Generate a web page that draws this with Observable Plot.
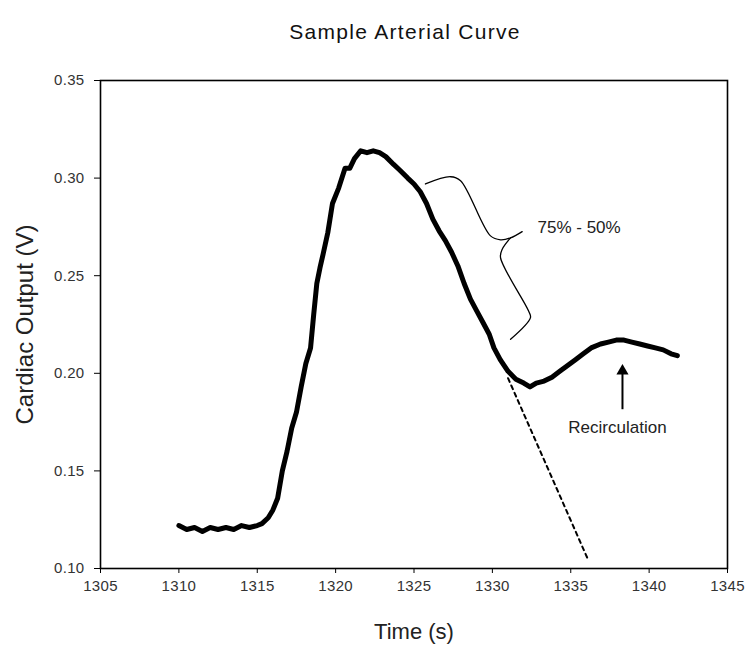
<!DOCTYPE html>
<html><head><meta charset="utf-8">
<script src="https://cdn.jsdelivr.net/npm/d3@7"></script>
<script src="https://cdn.jsdelivr.net/npm/@observablehq/plot@0.6"></script>
<style>
body{margin:0;background:#fff;font-family:"Liberation Sans",Arial,sans-serif;}
#title{width:750px;height:50px;box-sizing:border-box;padding-top:20px;padding-left:60px;line-height:24px;text-align:center;font-size:21px;letter-spacing:1.3px;color:#111;}
</style></head><body>
<div id="title">Sample Arterial Curve</div>
<div id="chart"></div>
<script>
// Measured arterial curve (time in s, cardiac output in V)
const timeS = [1310.0,1310.5,1311.0,1311.5,1312.0,1312.5,1313.0,1313.5,1314.0,1314.5,1315.0,1315.3,1315.7,1316.0,1316.3,1316.6,1316.9,1317.2,1317.5,1317.8,1318.1,1318.4,1318.6,1318.8,1319.0,1319.2,1319.5,1319.8,1320.2,1320.6,1320.9,1321.2,1321.6,1322.0,1322.4,1322.8,1323.2,1323.7,1324.1,1324.6,1325.0,1325.4,1325.8,1326.2,1326.6,1327.0,1327.4,1327.8,1328.2,1328.6,1329.0,1329.4,1329.8,1330.1,1330.5,1331.0,1331.5,1332.0,1332.4,1332.8,1333.3,1333.8,1334.3,1334.8,1335.3,1335.8,1336.3,1336.9,1337.4,1337.9,1338.4,1338.9,1339.4,1339.9,1340.4,1340.9,1341.4,1341.8];
const outputV = [0.122,0.120,0.121,0.119,0.121,0.120,0.121,0.120,0.122,0.121,0.122,0.123,0.126,0.130,0.136,0.150,0.160,0.172,0.180,0.193,0.205,0.213,0.230,0.246,0.254,0.261,0.272,0.287,0.295,0.305,0.305,0.310,0.314,0.313,0.314,0.313,0.311,0.307,0.304,0.300,0.297,0.293,0.287,0.279,0.273,0.268,0.262,0.255,0.246,0.238,0.232,0.226,0.220,0.213,0.207,0.201,0.197,0.195,0.193,0.195,0.196,0.198,0.201,0.204,0.207,0.210,0.213,0.215,0.216,0.217,0.217,0.216,0.215,0.214,0.213,0.212,0.210,0.209];

// Extrapolated decay (dashed)
const extrapT = [1331.0, 1336.1];
const extrapV = [0.1975, 0.1046];

// Brace annotation (two halves)
const braceT = [1325.73,1327.33,1327.97,1329.88,1330.52,1331.16,1331.90, 1331.16,1330.63,1330.52,1332.31,1332.43,1331.16];
const braceV = [0.2970,0.3007,0.2987,0.2704,0.2684,0.2694,0.2726, 0.2694,0.2636,0.2593,0.2319,0.2285,0.2174];
const braceSeg = ["a","a","a","a","a","a","a","b","b","b","b","b","b"];

// Recirculation arrow
const arrowT = 1338.3, arrowV0 = 0.1816, arrowV1 = 0.2005, arrowTipV = 0.2012;

// Axes
const xTicks = [1305,1310,1315,1320,1325,1330,1335,1340,1345];
const yTicks = [0.10,0.15,0.20,0.25,0.30,0.35];
const xDomain = [1305,1345];
const yDomain = [0.10,0.35];

const curve = timeS.map((t,i)=>({t, v: outputV[i]}));
const extrap = extrapT.map((t,i)=>({t, v: extrapV[i]}));
const brace = braceT.map((t,i)=>({t, v: braceV[i], s: braceSeg[i]}));

const chart = Plot.plot({
  width: 750, height: 603,
  marginTop: 30, marginBottom: 85, marginLeft: 100, marginRight: 23,
  style: {fontFamily: '"Liberation Sans", Arial, sans-serif', background: "#fff", color: "#111"},
  x: {domain: xDomain},
  y: {domain: yDomain},
  marks: [
    Plot.axisY({ticks: yTicks, tickFormat: d => d.toFixed(2), tickSize: 6, tickPadding: 10, fontSize: 15, label: null, stroke: "black", fill: "#333"}),
    Plot.axisX({ticks: xTicks, tickFormat: d => String(d), tickSize: 5, tickPadding: 7, fontSize: 15, label: null, stroke: "black", fill: "#333"}),
    Plot.line(extrap, {x: "t", y: "v", stroke: "black", strokeWidth: 2, strokeDasharray: "4,4"}),
    Plot.line(brace, {x: "t", y: "v", z: "s", curve: "catmull-rom", stroke: "black", strokeWidth: 1.3}),
    Plot.line(curve, {x: "t", y: "v", stroke: "black", strokeWidth: 5, strokeLinejoin: "round", strokeLinecap: "round"}),
    Plot.link([0], {x1: () => arrowT, x2: () => arrowT, y1: () => arrowV0, y2: () => arrowV1, stroke: "black", strokeWidth: 2}),
    Plot.dot([0], {x: () => arrowT, y: () => arrowTipV, symbol: "triangle", r: 4.5, fill: "black", stroke: "none"}),
    Plot.text(["Recirculation"], {x: () => 1337.98, y: () => 0.172, text: d => d, fontSize: 17, fill: "#222", ariaLabel: "rec"}),
    Plot.text(["75% - 50%"], {x: () => 1332.88, y: () => 0.2747, text: d => d, fontSize: 17, fill: "#222", textAnchor: "start", ariaLabel: "pct"}),
    Plot.text(["Cardiac Output (V)"], {frameAnchor: "left", textAnchor: "middle", lineAnchor: "middle", text: d => d, rotate: -90, dx: -75, fontSize: 24, fill: "#222", ariaLabel: "ylab"}),
    Plot.text(["Time (s)"], {frameAnchor: "bottom", text: d => d, dy: 70, fontSize: 22, fill: "#222", ariaLabel: "xlab"}),
    Plot.frame({stroke: "black", strokeWidth: 1.6})
  ]
});
document.getElementById("chart").appendChild(chart);
const svg = d3.select(chart);
svg.selectAll('g[aria-label="ylab"] text').style("letter-spacing", "1.8px");
svg.selectAll('g[aria-label="xlab"] text').style("letter-spacing", "0.6px");
svg.selectAll('g[aria-label="rec"] text').style("letter-spacing", "1.3px");
svg.selectAll('g[aria-label="pct"] text').style("letter-spacing", "1.8px");
svg.selectAll('g[aria-label="y-axis tick label"] text, g[aria-label="x-axis tick label"] text').style("letter-spacing", "0.3px");
</script></body></html>
